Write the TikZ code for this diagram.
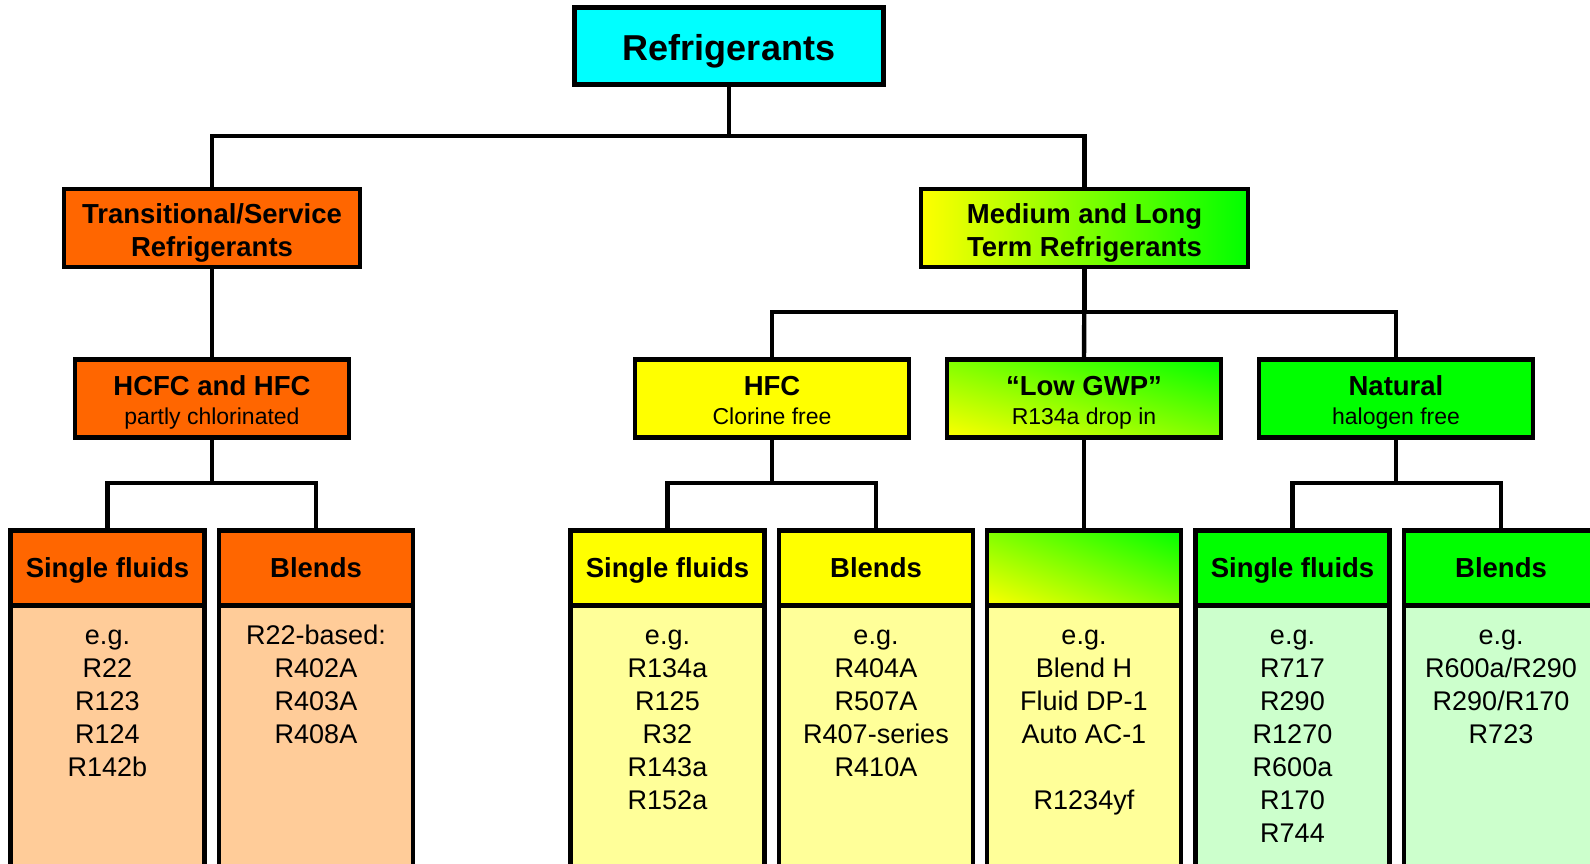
\documentclass[tikz,border=0pt]{standalone}
\usepackage{fontspec}
\setmainfont{Liberation Sans}
\usetikzlibrary{shadings}
\definecolor{rcyan}{HTML}{00FFFF}
\definecolor{ryellow}{HTML}{FFFF00}
\definecolor{rgreen}{HTML}{00FF00}
\definecolor{rorange}{HTML}{FF6600}
\definecolor{rpeach}{HTML}{FFCC99}
\definecolor{rlemon}{HTML}{FFFF99}
\definecolor{rmint}{HTML}{CCFFCC}
\newcommand\subline[1]{{\fontsize{23}{29}\selectfont\mdseries #1}}
\tikzset{
  box/.style={draw, line width=4.4pt, inner sep=0pt, outer sep=0pt, align=center},
  topbox/.style={box, fill=rcyan, minimum width=309, minimum height=77,
    font=\fontsize{36}{40}\selectfont\bfseries, text height=33, text depth=4},
  catbox/.style={box, minimum height=78, font=\fontsize{27.5}{32.5}\selectfont\bfseries,
    text height=62.6, text depth=6},
  groupbox/.style={box, minimum width=274, minimum height=78,
    font=\fontsize{27.5}{29}\selectfont\bfseries, text height=56, text depth=5},
  headbox/.style={box, minimum width=194, minimum height=75,
    font=\fontsize{27.5}{33}\selectfont\bfseries, text height=22, text depth=4},
  bodybox/.style={box, anchor=north, minimum width=194, minimum height=320},
  bodytext/.style={anchor=north, inner sep=0pt, align=center,
    font=\fontsize{27}{33}\selectfont},
  gwpshade/.style={lower left=ryellow, upper right=rgreen,
    upper left=ryellow!50!rgreen, lower right=ryellow!50!rgreen},
}
\begin{document}
\begin{tikzpicture}[x=1pt, y=-1pt]
  \clip (0,0) rectangle (1590,864);
  % top
  \node[topbox] (ref) at (729,46) {Refrigerants};
  % first level
  \node[catbox, fill=rorange, minimum width=296] (trans) at (212,228) {Transitional/Service\\Refrigerants};
  \node[catbox, left color=ryellow, right color=rgreen, minimum width=327] (medlong) at (1084.5,228) {Medium and Long\\Term Refrigerants};
  % second level
  \node[groupbox, fill=rorange] (hcfc) at (212,398.5) {HCFC and HFC\\\subline{partly chlorinated}};
  \node[groupbox, fill=ryellow] (hfc) at (772,398.5) {HFC\\\subline{Clorine free}};
  \node[groupbox, gwpshade] (gwp) at (1084,398.5) {“Low GWP”\\\subline{R134a drop in}};
  \node[groupbox, fill=rgreen] (nat) at (1396,398.5) {Natural\\\subline{halogen free}};
  % third level, headers
  \node[headbox, fill=rorange] (hcsingle) at (107.5,568) {Single fluids};
  \node[headbox, fill=rorange] (hcblend) at (316,568) {Blends};
  \node[headbox, fill=ryellow] (hfsingle) at (667.5,568) {Single fluids};
  \node[headbox, fill=ryellow] (hfblend) at (876,568) {Blends};
  \node[headbox, gwpshade] (gwphead) at (1084,568) {};
  \node[headbox, fill=rgreen] (natsingle) at (1292.5,568) {Single fluids};
  \node[headbox, fill=rgreen] (natblend) at (1501,568) {Blends};
  % third level, bodies
  \node[bodybox, fill=rpeach] (hcsinglebody) at (hcsingle.south) {};
  \node[bodybox, fill=rpeach] (hcblendbody) at (hcblend.south) {};
  \node[bodybox, fill=rlemon] (hfsinglebody) at (hfsingle.south) {};
  \node[bodybox, fill=rlemon] (hfblendbody) at (hfblend.south) {};
  \node[bodybox, fill=rlemon] (gwpbody) at (gwphead.south) {};
  \node[bodybox, fill=rmint] (natsinglebody) at (natsingle.south) {};
  \node[bodybox, fill=rmint] (natblendbody) at (natblend.south) {};
  \node[bodytext] (hcsinglelist) at ([yshift=-15.5pt]hcsinglebody.north) {\strut e.g.\\R22\\R123\\R124\\R142b};
  \node[bodytext] (hcblendlist) at ([yshift=-15.5pt]hcblendbody.north) {\strut R22-based:\\R402A\\R403A\\R408A};
  \node[bodytext] (hfsinglelist) at ([yshift=-15.5pt]hfsinglebody.north) {\strut e.g.\\R134a\\R125\\R32\\R143a\\R152a};
  \node[bodytext] (hfblendlist) at ([yshift=-15.5pt]hfblendbody.north) {\strut e.g.\\R404A\\R507A\\R407-series\\R410A};
  \node[bodytext] (gwplist) at ([yshift=-15.5pt]gwpbody.north) {\strut e.g.\\Blend H\\Fluid DP-1\\Auto AC-1\\[33pt]R1234yf};
  \node[bodytext] (natsinglelist) at ([yshift=-15.5pt]natsinglebody.north) {\strut e.g.\\R717\\R290\\R1270\\R600a\\R170\\R744};
  \node[bodytext] (natblendlist) at ([yshift=-15.5pt]natblendbody.north) {\strut e.g.\\R600a/R290\\R290/R170\\R723};
  % connectors
  \begin{scope}[line width=4.4pt]
    \draw (ref.south) -- ++(0,51.5) -| (trans.north);
    \draw (ref.south) -- ++(0,51.5) -| (medlong.north);
    \draw (trans.south) -- (hcfc.north);
    \draw (medlong.south) -- ++(0,45) -| (hfc.north);
    \draw (medlong.south) -- (gwp.north);
    \draw (medlong.south) -- ++(0,45) -| (nat.north);
    \draw (hcfc.south) -- ++(0,45.5) -| (hcsingle.north);
    \draw (hcfc.south) -- ++(0,45.5) -| (hcblend.north);
    \draw (hfc.south) -- ++(0,45.5) -| (hfsingle.north);
    \draw (hfc.south) -- ++(0,45.5) -| (hfblend.north);
    \draw (gwp.south) -- (gwphead.north);
    \draw (nat.south) -- ++(0,45.5) -| (natsingle.north);
    \draw (nat.south) -- ++(0,45.5) -| (natblend.north);
  \end{scope}
\end{tikzpicture}
\end{document}
